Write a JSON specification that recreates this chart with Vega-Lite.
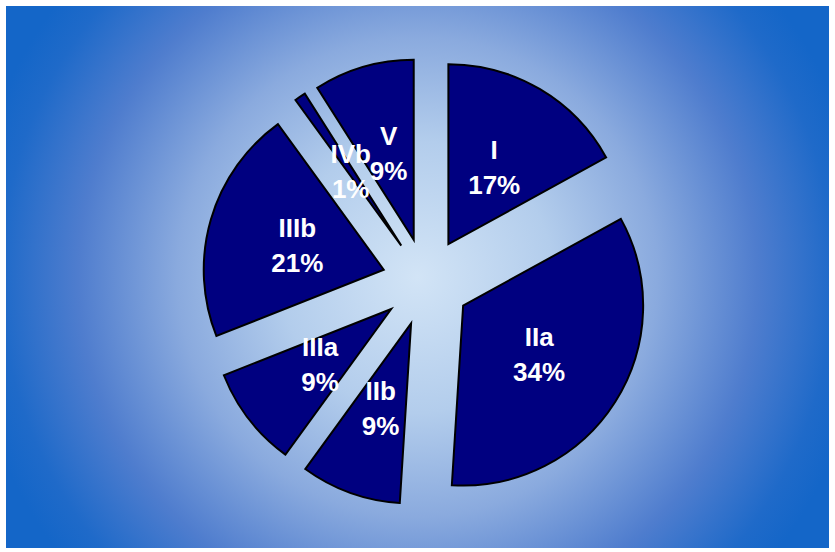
{
  "$schema": "https://vega.github.io/schema/vega-lite/v6.json",
  "width": 835,
  "height": 552,
  "autosize": {"type": "fit", "contains": "padding"},
  "padding": {"left": 6, "top": 6, "right": 6, "bottom": 4},
  "background": "white",
  "view": {
    "stroke": null,
    "fill": {
      "gradient": "radial",
      "x1": 0.5, "y1": 0.5, "r1": 0,
      "x2": 0.5, "y2": 0.5, "r2": 0.55,
      "stops": [
        {"offset": 0, "color": "#d2e4f6"},
        {"offset": 0.3, "color": "#b3cdec"},
        {"offset": 0.53, "color": "#8aaade"},
        {"offset": 0.75, "color": "#4f7dce"},
        {"offset": 0.92, "color": "#1f6ac9"},
        {"offset": 1, "color": "#1466c8"}
      ]
    }
  },
  "data": {
    "values": [
      {"order": 1, "cls": "I", "value": 17},
      {"order": 2, "cls": "IIa", "value": 34},
      {"order": 3, "cls": "IIb", "value": 9},
      {"order": 4, "cls": "IIIa", "value": 9},
      {"order": 5, "cls": "IIIb", "value": 21},
      {"order": 6, "cls": "IVb", "value": 1},
      {"order": 7, "cls": "V", "value": 9}
    ]
  },
  "transform": [
    {"window": [{"op": "sum", "field": "value", "as": "cum"}], "sort": [{"field": "order"}], "frame": [null, 0]},
    {"calculate": "datum.cum - datum.value", "as": "start"},
    {"calculate": "datum.start + datum.value / 2", "as": "midp"},
    {"calculate": "datum.midp / 100 * 2 * PI", "as": "mida"},
    {"calculate": "sin(datum.mida)", "as": "ex"},
    {"calculate": "cos(datum.mida)", "as": "ey"},
    {"calculate": "datum.cls + '\\n' + datum.value + '%'", "as": "label"}
  ],
  "encoding": {
    "x": {"field": "ex", "type": "quantitative", "scale": {"domain": [-9.545, 9.159], "nice": false, "zero": false}, "axis": null},
    "y": {"field": "ey", "type": "quantitative", "scale": {"domain": [-6.045, 6.273], "nice": false, "zero": false}, "axis": null}
  },
  "layer": [
    {
      "mark": {"type": "arc", "outerRadius": 180, "fill": "#000080", "stroke": "#000000", "strokeWidth": 2},
      "encoding": {
        "theta": {"field": "start", "type": "quantitative", "stack": null, "scale": {"domain": [0, 100], "range": [0, 6.283185307]}},
        "theta2": {"field": "cum"}
      }
    },
    {
      "mark": {"type": "text", "radius": 90, "dy": -16, "fontSize": 26, "fontWeight": "bold", "font": "Liberation Sans", "fill": "white", "lineBreak": "\n", "lineHeight": 35, "align": "center", "baseline": "middle"},
      "encoding": {
        "theta": {"field": "midp", "type": "quantitative", "stack": null, "scale": {"domain": [0, 100], "range": [0, 6.283185307]}},
        "text": {"field": "label"}
      }
    }
  ]
}
